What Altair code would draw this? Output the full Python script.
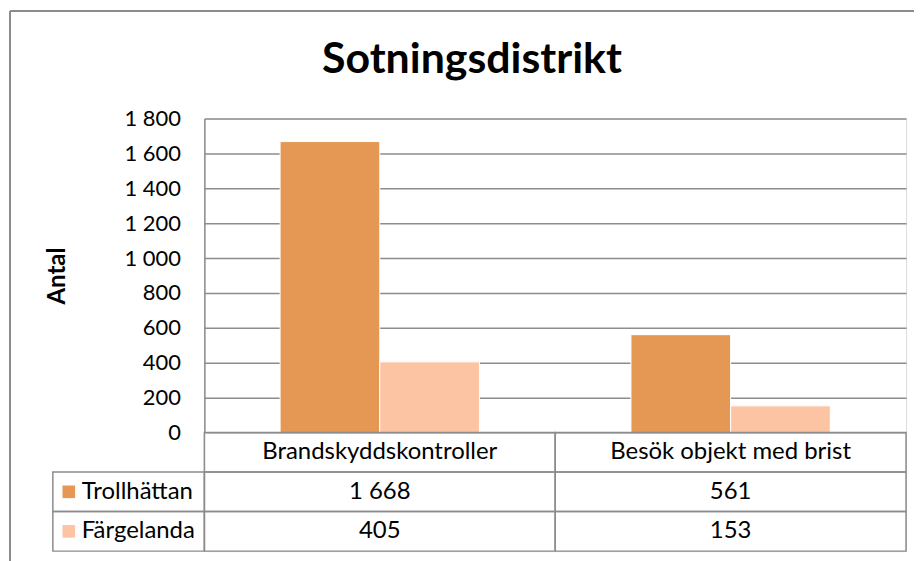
import altair as alt
import pandas as pd

categories = ["Brandskyddskontroller", "Besök objekt med brist"]
series = ["Trollhättan", "Färgelanda"]
trollhattan = [1668, 561]
fargelanda = [405, 153]
colors = ["#E59853", "#FCC4A3"]
y_ticks = [0, 200, 400, 600, 800, 1000, 1200, 1400, 1600, 1800]

FONT = "Lato"
GRID = "#8c8c8c"
W, H, TH = 704, 315, 119

rows = []
for i, c in enumerate(categories):
    rows.append({"category": c, "series": series[0], "value": trollhattan[i]})
    rows.append({"category": c, "series": series[1], "value": fargelanda[i]})
df = pd.DataFrame(rows)

row_order = ["_head"] + series
cells = []
for i, c in enumerate(categories):
    cells.append({"category": c, "row": "_head", "text": c})
    for s, vals in zip(series, [trollhattan, fargelanda]):
        cells.append({"category": c, "row": s, "text": f"{vals[i]:,}".replace(",", " ")})
cells_df = pd.DataFrame(cells)
labels_df = pd.DataFrame({"row": series, "series": series})
one = pd.DataFrame({"k": [0]})

color_scale = alt.Scale(domain=series, range=colors)

bars = alt.Chart(df).mark_bar(stroke="white", strokeWidth=1).encode(
    x=alt.X("category:N", sort=categories, axis=None,
            scale=alt.Scale(paddingInner=0, paddingOuter=0)),
    xOffset=alt.XOffset("series:N", sort=series,
                        scale=alt.Scale(paddingInner=0, paddingOuter=0.76)),
    y=alt.Y("value:Q", scale=alt.Scale(domain=[0, 1800], nice=False),
            axis=alt.Axis(values=y_ticks, title="Antal",
                          labelExpr="replace(format(datum.value, ','), ',', ' ')",
                          ticks=False, labelPadding=24, labelFontSize=22,
                          labelFont=FONT, labelColor="black",
                          titleFont=FONT, titleFontSize=24, titleFontWeight="bold",
                          titleColor="black", titlePadding=55,
                          domainColor=GRID, domainWidth=1.5,
                          gridColor=GRID, gridWidth=1.5)),
    color=alt.Color("series:N", scale=color_scale, legend=None),
)

# outer chart frame (left and top edges)
frame_left = alt.Chart(one).mark_rule(color=GRID, strokeWidth=2).encode(
    x=alt.value(-195), y=alt.value(-108), y2=alt.value(H + TH + 10))
frame_top = alt.Chart(one).mark_rule(color=GRID, strokeWidth=2).encode(
    x=alt.value(-195), x2=alt.value(W + 8), y=alt.value(-108))

top = alt.layer(bars, frame_left, frame_top).properties(width=W, height=H)

ydef = alt.Y("row:N", sort=row_order, axis=None,
             scale=alt.Scale(domain=row_order, paddingInner=0, paddingOuter=0))
xdef = alt.X("category:N", sort=categories, axis=None,
             scale=alt.Scale(domain=categories, paddingInner=0, paddingOuter=0))

base = alt.Chart(cells_df)
cell_rect = base.mark_rect(fill="transparent", stroke=GRID, strokeWidth=1.5).encode(x=xdef, y=ydef)
cell_text = base.mark_text(font=FONT, fontSize=24, color="black").encode(x=xdef, y=ydef, text="text:N")

lab = alt.Chart(labels_df)
lab_rect = lab.mark_rect(fill="transparent", stroke=GRID, strokeWidth=1.5).encode(
    x=alt.value(-152), x2=alt.value(0), y=ydef)
swatch = lab.mark_square(size=160, opacity=1).encode(
    x=alt.value(-136), y=ydef, color=alt.Color("series:N", scale=color_scale, legend=None))
lab_text = lab.mark_text(font=FONT, fontSize=24, color="black", align="left").encode(
    x=alt.value(-123), y=ydef, text="row:N")

table = alt.layer(cell_rect, cell_text, lab_rect, swatch, lab_text).properties(width=W, height=TH)

chart = alt.vconcat(top, table, spacing=0, bounds="flush").properties(
    title=alt.TitleParams("Sotningsdistrikt", font=FONT, fontSize=43, fontWeight="bold",
                          color="black", anchor="middle", offset=-73, dx=10),
    padding={"left": 0, "top": 0, "right": 0, "bottom": 0},
).configure_view(strokeWidth=0).configure(background="white")

chart.save("out.html", embed_options={"renderer": "svg", "actions": False})
